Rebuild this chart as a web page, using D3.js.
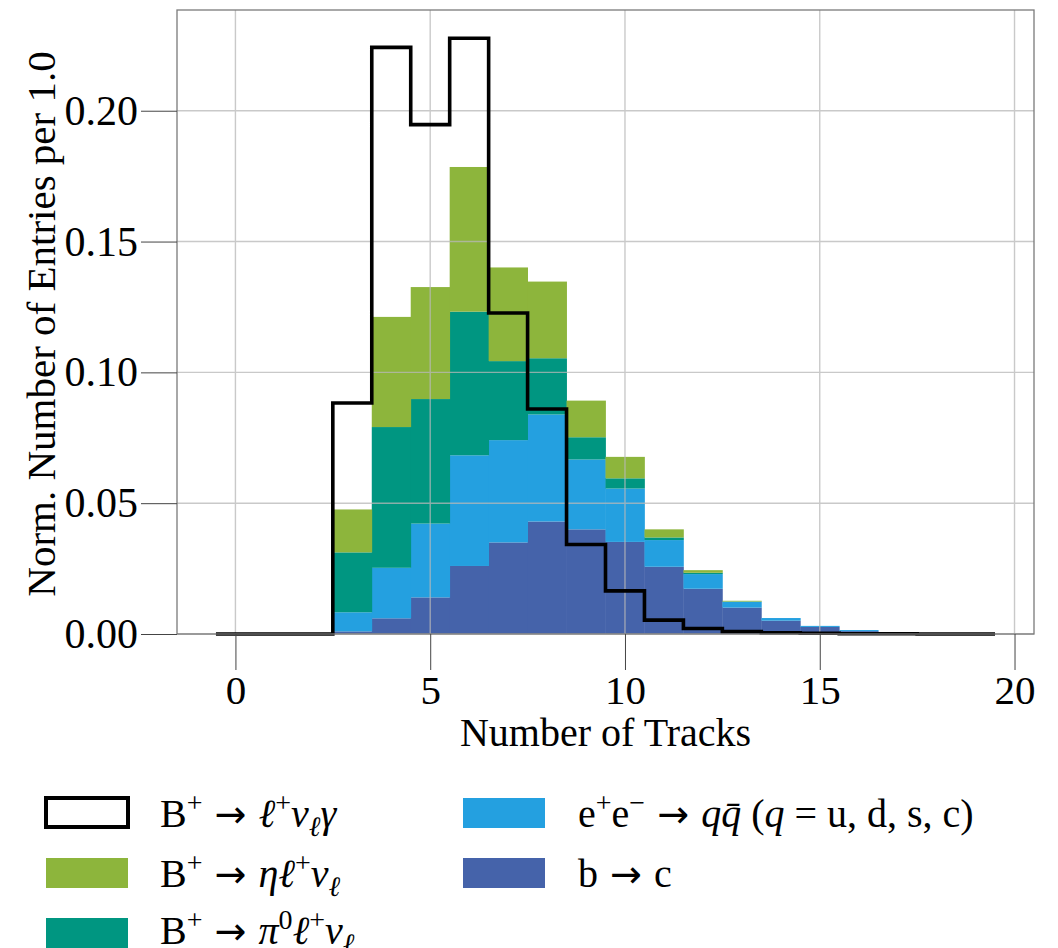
<!DOCTYPE html>
<html>
<head>
<meta charset="utf-8">
<script src="https://cdn.jsdelivr.net/npm/d3@7/dist/d3.min.js"></script>
<style>
  html, body { margin: 0; padding: 0; background: #fff; }
  svg { display: block; }
  text { font-family: "Liberation Serif", "DejaVu Serif", serif; fill: #000; }
</style>
</head>
<body>
<svg id="chart" width="1058" height="948"></svg>
<script>
// Bin centres: number of tracks, 0 .. 19 (unit-width bins)
const binCenters = d3.range(0, 20);

// Normalised background contributions per bin (stacked, bottom to top)
const bToC    = [0, 0, 0, 0.0010, 0.0060, 0.0140, 0.0260, 0.0350, 0.0430, 0.0400, 0.0352, 0.0257, 0.0173, 0.0101, 0.0051, 0.0027, 0.0011, 0.0003, 0, 0];
const qqbar   = [0, 0, 0, 0.0073, 0.0193, 0.0282, 0.0423, 0.0391, 0.0409, 0.0267, 0.0204, 0.0102, 0.0056, 0.0022, 0.0010, 0.0004, 0.0004, 0.0001, 0, 0];
const pi0Lnu  = [0, 0, 0, 0.0229, 0.0538, 0.0476, 0.0549, 0.0302, 0.0215, 0.0085, 0.0039, 0.0010, 0.0005, 0.0001, 0, 0, 0, 0, 0, 0];
const etaLnu  = [0, 0, 0, 0.0164, 0.0421, 0.0428, 0.0553, 0.0358, 0.0293, 0.0140, 0.0082, 0.0031, 0.0010, 0.0003, 0, 0, 0, 0, 0, 0];

// Signal B+ -> l+ nu gamma, drawn as an outline
const signal  = [0, 0, 0, 0.0883, 0.2242, 0.1947, 0.2277, 0.1227, 0.0860, 0.0342, 0.0165, 0.0053, 0.0021, 0.0009, 0.0005, 0.0003, 0.0001, 0.0001, 0, 0];

const xTicks = [0, 5, 10, 15, 20];
const yTicks = [0, 0.05, 0.10, 0.15, 0.20];

const stackKeys = ["bToC", "qqbar", "pi0Lnu", "etaLnu"];
const colors = {
  bToC:   "#4563aa",
  qqbar:  "#24a0e0",
  pi0Lnu: "#009681",
  etaLnu: "#8db53c"
};

const svg = d3.select("#chart");
const plot = { left: 177, right: 1034, top: 10, bottom: 634 };

const x = d3.scaleLinear().domain([-1.5, 20.5]).range([plot.left, plot.right]);
const y = d3.scaleLinear().domain([0, 0.2385]).range([plot.bottom, plot.top]);

const table = binCenters.map((c, i) => ({
  center: c, bToC: bToC[i], qqbar: qqbar[i], pi0Lnu: pi0Lnu[i], etaLnu: etaLnu[i]
}));
const series = d3.stack().keys(stackKeys)(table);

// Stacked histogram bars
const gBars = svg.append("g");
series.forEach(s => {
  gBars.selectAll(null)
    .data(s.filter(d => d[1] - d[0] > 0))
    .join("rect")
    .attr("x", d => x(d.data.center - 0.5))
    .attr("width", d => x(d.data.center + 0.5) - x(d.data.center - 0.5) + 0.4)
    .attr("y", d => y(d[1]))
    .attr("height", d => y(d[0]) - y(d[1]))
    .attr("fill", colors[s.key]);
});

// Grid lines on top of the filled bars
const gGrid = svg.append("g").attr("stroke", "#b8b8b8").attr("stroke-width", 1.4).attr("opacity", 0.75);
gGrid.selectAll(null).data(xTicks).join("line")
  .attr("x1", d => x(d)).attr("x2", d => x(d))
  .attr("y1", plot.top).attr("y2", plot.bottom);
gGrid.selectAll(null).data(yTicks).join("line")
  .attr("x1", plot.left).attr("x2", plot.right)
  .attr("y1", d => y(d)).attr("y2", d => y(d));

// Signal outline as a step line across bin edges
const stepPts = binCenters.map((c, i) => [c - 0.5, signal[i]]);
stepPts.push([binCenters[binCenters.length - 1] + 0.5, signal[signal.length - 1]]);
svg.append("path")
  .datum(stepPts)
  .attr("fill", "none")
  .attr("stroke", "#000")
  .attr("stroke-width", 3.6)
  .attr("stroke-linejoin", "miter")
  .attr("d", d3.line().x(d => x(d[0])).y(d => y(d[1])).curve(d3.curveStepAfter));

// Frame
svg.append("rect")
  .attr("x", plot.left).attr("y", plot.top)
  .attr("width", plot.right - plot.left).attr("height", plot.bottom - plot.top)
  .attr("fill", "none").attr("stroke", "#7a7a7a").attr("stroke-width", 1.3);

// Axes
const xAxis = d3.axisBottom(x).tickValues(xTicks).tickSize(36).tickPadding(5).tickFormat(d3.format("d"));
const gx = svg.append("g").attr("transform", `translate(0,${plot.bottom})`).call(xAxis);
gx.select(".domain").remove();
gx.selectAll(".tick line").attr("stroke", "#444").attr("stroke-width", 1);
gx.selectAll(".tick text").attr("font-size", 41).attr("font-family", "Liberation Serif, serif").attr("fill", "#000");

const yAxis = d3.axisLeft(y).tickValues(yTicks).tickSize(36).tickPadding(3).tickFormat(d3.format(".2f"));
const gy = svg.append("g").attr("transform", `translate(${plot.left},0)`).call(yAxis);
gy.select(".domain").remove();
gy.selectAll(".tick line").attr("stroke", "#444").attr("stroke-width", 1);
gy.selectAll(".tick text").attr("font-size", 42).attr("font-family", "Liberation Serif, serif").attr("fill", "#000");

// Axis titles
svg.append("text")
  .attr("x", (plot.left + plot.right) / 2).attr("y", 746)
  .attr("text-anchor", "middle").attr("font-size", 40)
  .text("Number of Tracks");
svg.append("text")
  .attr("transform", `translate(55,${(plot.top + plot.bottom) / 2 + 2}) rotate(-90)`)
  .attr("text-anchor", "middle").attr("font-size", 41)
  .text("Norm. Number of Entries per 1.0");

// Legend with simple math-style labels
function mathText(g, px, py, parts) {
  const t = g.append("text").attr("x", px).attr("y", py).attr("font-size", 40);
  let shift = 0;
  parts.forEach(p => {
    const target = p.sup ? -15 : p.sub ? 9 : 0;
    const ts = t.append("tspan").text(p.t).attr("dy", target - shift);
    shift = target;
    if (p.i) ts.attr("font-style", "italic");
    if (p.sup || p.sub) ts.attr("font-size", 28);
    if (p.arrow) ts.attr("font-family", "DejaVu Sans, sans-serif").attr("font-size", 38);
  });
  return t;
}

const arrow = {t: " → ", arrow: 1};
const legendRows = [
  { key: "signal", bx: 46, by: 798, tx: 160, ty: 827, parts: [
    {t: "B"}, {t: "+", sup: 1}, arrow, {t: "ℓ", i: 1}, {t: "+", sup: 1}, {t: "ν", i: 1}, {t: "ℓ", i: 1, sub: 1}, {t: "γ", i: 1}] },
  { key: "etaLnu", bx: 46, by: 858, tx: 160, ty: 887, parts: [
    {t: "B"}, {t: "+", sup: 1}, arrow, {t: "η", i: 1}, {t: "ℓ", i: 1}, {t: "+", sup: 1}, {t: "ν", i: 1}, {t: "ℓ", i: 1, sub: 1}] },
  { key: "pi0Lnu", bx: 46, by: 918, tx: 160, ty: 944, parts: [
    {t: "B"}, {t: "+", sup: 1}, arrow, {t: "π", i: 1}, {t: "0", sup: 1}, {t: "ℓ", i: 1}, {t: "+", sup: 1}, {t: "ν", i: 1}, {t: "ℓ", i: 1, sub: 1}] },
  { key: "qqbar", bx: 463, by: 798, tx: 578, ty: 827, parts: [
    {t: "e"}, {t: "+", sup: 1}, {t: "e"}, {t: "−", sup: 1}, arrow, {t: "q", i: 1}, {t: "q̄", i: 1}, {t: " ("}, {t: "q", i: 1}, {t: " = u, d, s, c)"}] },
  { key: "bToC", bx: 463, by: 858, tx: 578, ty: 887, parts: [
    {t: "b"}, arrow, {t: "c"}] }
];

const gLeg = svg.append("g");
legendRows.forEach(r => {
  if (r.key === "signal") {
    gLeg.append("rect").attr("x", r.bx).attr("y", r.by).attr("width", 82).attr("height", 29)
      .attr("fill", "#fff").attr("stroke", "#000").attr("stroke-width", 4);
  } else {
    gLeg.append("rect").attr("x", r.bx).attr("y", r.by).attr("width", 82).attr("height", 30)
      .attr("fill", colors[r.key]);
  }
  mathText(gLeg, r.tx, r.ty, r.parts);
});
</script>
</body>
</html>
